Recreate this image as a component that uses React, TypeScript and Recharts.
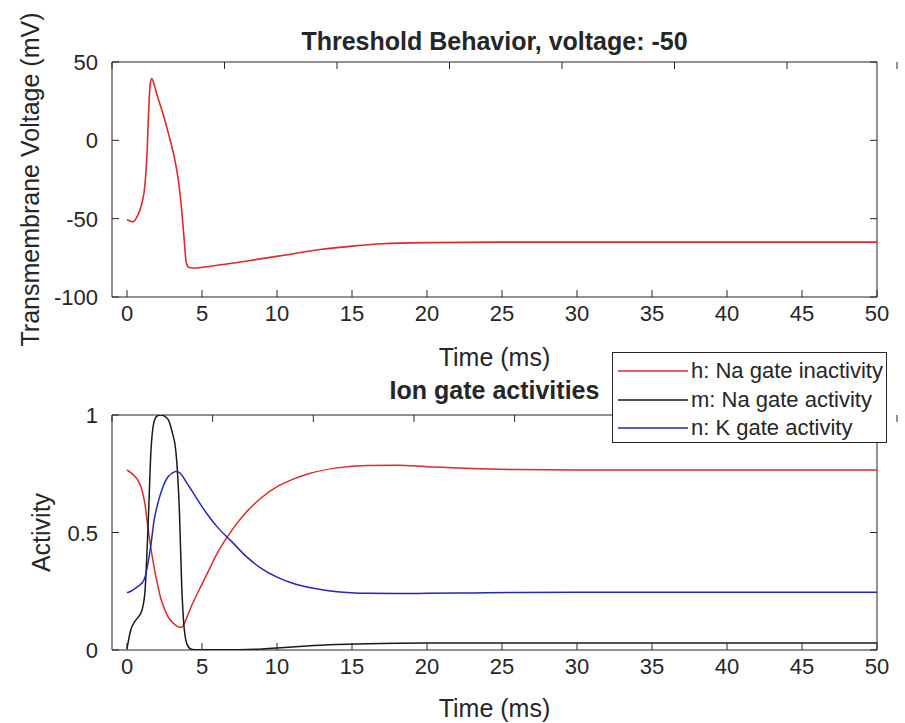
import { LineChart, Line, XAxis, YAxis, ReferenceArea } from 'recharts';

const FONT = '"Liberation Sans", Arial, Helvetica, sans-serif';
const AXIS = '#262626';
const TICK_LEN = 7;

// membrane voltage (ms, mV)
const vTime = [0, 0.2, 0.4, 0.6, 0.8, 1.0, 1.2, 1.35, 1.45, 1.55, 1.65, 1.8, 2.0, 2.4, 2.8, 3.2, 3.4, 3.6, 3.8, 3.95, 4.1, 4.4, 4.8, 5.5, 7, 9, 11, 13, 15, 17, 20, 25, 30, 40, 50];
const vVolt = [-50.5, -51.5, -52, -50, -46, -40, -28, -5, 20, 36, 39.5, 36, 29, 17, 3, -13, -24, -40, -62, -78, -81, -81.5, -81.3, -80.5, -78.5, -75.5, -72.5, -69.5, -67.5, -66, -65.3, -65, -65, -65, -65];

// gate variables
const gateTime = [0, 0.25, 0.5, 0.75, 1.0, 1.2, 1.4, 1.6, 1.8, 2.0, 2.25, 2.5, 2.75, 3.0, 3.25, 3.5, 3.65, 3.8, 4.0, 4.25, 4.5, 5, 5.5, 6, 7, 8, 9, 10, 11, 12, 14, 16, 18, 20, 23, 26, 30, 40, 50];
const hGate = [0.766, 0.755, 0.74, 0.72, 0.68, 0.62, 0.52, 0.43, 0.355, 0.29, 0.22, 0.175, 0.14, 0.12, 0.105, 0.097, 0.097, 0.11, 0.14, 0.18, 0.215, 0.28, 0.345, 0.41, 0.51, 0.59, 0.65, 0.695, 0.725, 0.748, 0.775, 0.785, 0.786, 0.78, 0.772, 0.768, 0.766, 0.766, 0.766];
const mGate = [0.005, 0.085, 0.12, 0.14, 0.17, 0.25, 0.52, 0.85, 0.97, 0.995, 1.0, 0.995, 0.98, 0.93, 0.85, 0.58, 0.27, 0.1, 0.025, 0.004, 0.001, 0.001, 0.001, 0.001, 0.001, 0.002, 0.004, 0.008, 0.013, 0.017, 0.023, 0.027, 0.029, 0.03, 0.03, 0.03, 0.03, 0.03, 0.03];
const nGate = [0.244, 0.25, 0.26, 0.272, 0.285, 0.31, 0.37, 0.45, 0.55, 0.61, 0.667, 0.71, 0.738, 0.752, 0.76, 0.755, 0.745, 0.73, 0.71, 0.685, 0.66, 0.61, 0.565, 0.525, 0.46, 0.395, 0.345, 0.31, 0.285, 0.268, 0.248, 0.241, 0.24, 0.241, 0.243, 0.245, 0.246, 0.246, 0.246];

const timeTicks = [0, 5, 10, 15, 20, 25, 30, 35, 40, 45, 50];
const timeDomain = [-1, 50];
const voltTicks = [-100, -50, 0, 50];
const actTicks = [0, 0.5, 1];

const legendItems = [
  { label: 'h: Na gate inactivity', color: '#e02828' },
  { label: 'm: Na gate activity', color: '#1a1a1a' },
  { label: 'n: K gate activity', color: '#2626b8' },
];

const voltData = vTime.map((t, i) => ({ t, v: vVolt[i] }));
const gateData = gateTime.map((t, i) => ({ t, h: hGate[i], m: mGate[i], n: nGate[i] }));

const X_MARGIN = 8;
const Y_MARGIN = 10;

// matlab style ticks: marks point into the plot box
function BottomTick(props: any) {
  const { x, y, payload } = props;
  const axisY = y - X_MARGIN;
  return (
    <g>
      <line x1={x} x2={x} y1={axisY} y2={axisY - TICK_LEN} stroke={AXIS} />
      <text x={x} y={y + 16} textAnchor="middle" fontSize={22} fontFamily={FONT} fill={AXIS}>{payload.value}</text>
    </g>
  );
}

function TopTick(props: any) {
  const { x, y } = props;
  return <line x1={x} x2={x} y1={y} y2={y + TICK_LEN} stroke={AXIS} />;
}

function LeftTick(props: any) {
  const { x, y, payload } = props;
  const axisX = x + Y_MARGIN;
  return (
    <g>
      <line x1={axisX} x2={axisX + TICK_LEN} y1={y} y2={y} stroke={AXIS} />
      <text x={x - 4} y={y + 8} textAnchor="end" fontSize={22} fontFamily={FONT} fill={AXIS}>{payload.value}</text>
    </g>
  );
}

function RightTick(props: any) {
  const { x, y } = props;
  return <line x1={x} x2={x - TICK_LEN} y1={y} y2={y} stroke={AXIS} />;
}

function panelAxes(yDomain: number[], yTicks: number[]) {
  return [
    <XAxis key="xb" xAxisId="b" dataKey="t" type="number" domain={timeDomain} ticks={timeTicks}
      allowDataOverflow height={30} tickSize={0} tickMargin={X_MARGIN} tick={<BottomTick />}
      axisLine={false} tickLine={false} />,
    <XAxis key="xt" xAxisId="t" orientation="top" type="number" domain={timeDomain} ticks={timeTicks}
      allowDataOverflow height={1} tickSize={0} tickMargin={0} tick={<TopTick />} axisLine={false} tickLine={false} />,
    <YAxis key="yl" yAxisId="l" type="number" domain={yDomain} ticks={yTicks} allowDataOverflow
      width={60} tickSize={0} tickMargin={Y_MARGIN} tick={<LeftTick />} axisLine={false} tickLine={false} />,
    <YAxis key="yr" yAxisId="r" orientation="right" type="number" domain={yDomain} ticks={yTicks} allowDataOverflow
      width={1} tickSize={0} tickMargin={0} tick={<RightTick />} axisLine={false} tickLine={false} />,
    <ReferenceArea key="box" xAxisId="b" yAxisId="l" x1={timeDomain[0]} x2={timeDomain[1]} y1={yDomain[0]} y2={yDomain[1]}
      fill="none" fillOpacity={0} stroke={AXIS} strokeWidth={1} ifOverflow="visible" />,
  ];
}

export default function App() {
  return (
    <div style={{ position: 'fixed', left: 0, top: 0, width: 905, height: 723, background: '#fff', fontFamily: FONT }}>
      <div style={{ position: 'absolute', left: 0, top: 0 }}>
        <LineChart width={905} height={360} data={voltData} margin={{ top: 61, right: 27, bottom: 33, left: 52 }}>
          {panelAxes([-100, 50], voltTicks)}
          <Line xAxisId="b" yAxisId="l" dataKey="v" type="monotone" stroke="#e02828" strokeWidth={1.6} dot={false} isAnimationActive={false} />
        </LineChart>
      </div>
      <div style={{ position: 'absolute', left: 0, top: 360 }}>
        <LineChart width={905} height={363} data={gateData} margin={{ top: 54, right: 27, bottom: 43, left: 52 }}>
          {panelAxes([0, 1], actTicks)}
          <Line xAxisId="b" yAxisId="l" dataKey="h" type="monotone" stroke={legendItems[0].color} strokeWidth={1.5} dot={false} isAnimationActive={false} />
          <Line xAxisId="b" yAxisId="l" dataKey="m" type="monotone" stroke={legendItems[1].color} strokeWidth={1.5} dot={false} isAnimationActive={false} />
          <Line xAxisId="b" yAxisId="l" dataKey="n" type="monotone" stroke={legendItems[2].color} strokeWidth={1.5} dot={false} isAnimationActive={false} />
        </LineChart>
      </div>
      <div style={{ position: 'absolute', left: 612, top: 352, width: 273, height: 89, border: '1px solid #262626', background: '#fff' }}>
        {legendItems.map((item, i) => (
          <div key={item.label} style={{ position: 'absolute', left: 0, top: 4 + i * 28.5, height: 28, display: 'flex', alignItems: 'center', whiteSpace: 'nowrap' }}>
            <svg width={78} height={28}>
              <line x1={5} x2={75} y1={14} y2={14} stroke={item.color} strokeWidth={1.5} />
            </svg>
            <span style={{ fontSize: 22, color: AXIS }}>{item.label}</span>
          </div>
        ))}
      </div>
      <svg width={905} height={723} style={{ position: 'absolute', left: 0, top: 0, pointerEvents: 'none' }}>
        <g fontFamily={FONT} fill={AXIS}>
          <text x={494.5} y={50} textAnchor="middle" fontSize={25} fontWeight="bold">Threshold Behavior, voltage: -50</text>
          <text x={494.5} y={366} textAnchor="middle" fontSize={25}>Time (ms)</text>
          <text x={494.5} y={399} textAnchor="middle" fontSize={25} fontWeight="bold">Ion gate activities</text>
          <text x={494.5} y={717} textAnchor="middle" fontSize={25}>Time (ms)</text>
          <text transform="translate(39,179.5) rotate(-90)" textAnchor="middle" fontSize={25}>Transmembrane Voltage (mV)</text>
          <text transform="translate(50,532.5) rotate(-90)" textAnchor="middle" fontSize={25}>Activity</text>
        </g>
      </svg>
    </div>
  );
}
